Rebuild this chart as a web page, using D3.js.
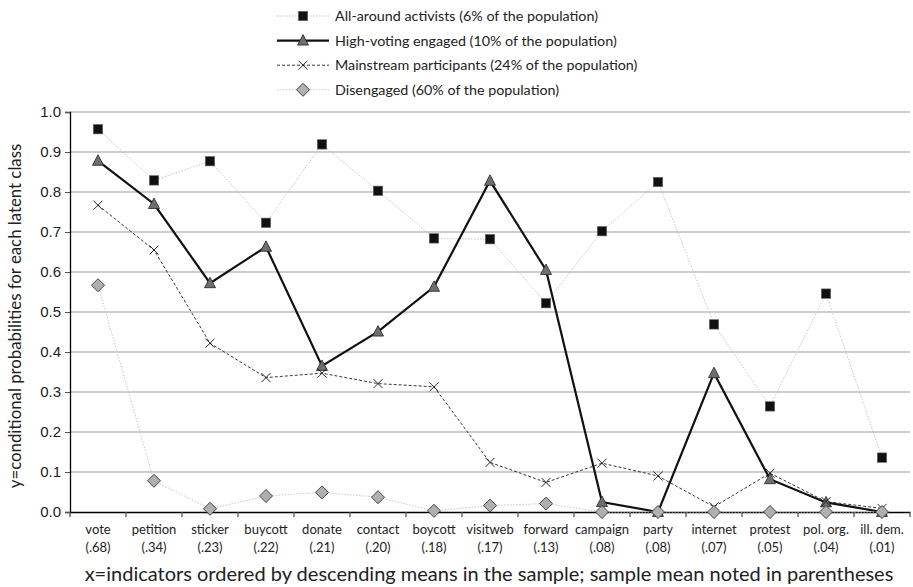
<!DOCTYPE html>
<html>
<head>
<meta charset="utf-8">
<script src="https://cdn.jsdelivr.net/npm/d3@7"></script>
<style>
  body { margin: 0; background: #fff; }
  svg { font-family: Lato, 'Open Sans', sans-serif; }
</style>
</head>
<body>
<svg width="913" height="587"></svg>
<script>
const indicators = ['vote', 'petition', 'sticker', 'buycott', 'donate', 'contact', 'boycott', 'visitweb', 'forward', 'campaign', 'party', 'internet', 'protest', 'pol. org.', 'ill. dem.']
const means = ['(.68)', '(.34)', '(.23)', '(.22)', '(.21)', '(.20)', '(.18)', '(.17)', '(.13)', '(.08)', '(.08)', '(.07)', '(.05)', '(.04)', '(.01)']
const yTicks = [0, 0.1, 0.2, 0.3, 0.4, 0.5, 0.6, 0.7, 0.8, 0.9, 1.0]

const activists = [0.957, 0.829, 0.877, 0.723, 0.919, 0.803, 0.684, 0.682, 0.522, 0.702, 0.825, 0.469, 0.264, 0.546, 0.136]
const highVoting = [0.878, 0.77, 0.572, 0.663, 0.365, 0.451, 0.563, 0.828, 0.605, 0.025, 0.0, 0.347, 0.082, 0.024, 0.0]
const mainstream = [0.767, 0.655, 0.422, 0.336, 0.347, 0.321, 0.313, 0.124, 0.074, 0.122, 0.09, 0.013, 0.097, 0.026, 0.009]
const disengaged = [0.567, 0.078, 0.008, 0.04, 0.049, 0.037, 0.003, 0.016, 0.021, 0.0, 0.0, 0.0, 0.0, 0.0, 0.0]

const series = [
  { name: 'All-around activists (6% of the population)', values: activists, stroke: '#c8c8c8', width: 1, dash: '1.5,1.5', marker: 'square' },
  { name: 'High-voting engaged (10% of the population)', values: highVoting, stroke: '#111', width: 2.2, dash: null, marker: 'triangle' },
  { name: 'Mainstream participants (24% of the population)', values: mainstream, stroke: '#222', width: 0.9, dash: '3,2', marker: 'cross' },
  { name: 'Disengaged (60% of the population)', values: disengaged, stroke: '#c8c8c8', width: 1, dash: '1.5,1.5', marker: 'diamond' }
]

const svg = d3.select('svg')
const margin = { left: 70, right: 3, top: 112, bottom: 75 }
const width = 913
const height = 587

const x = d3.scaleBand().domain(indicators).range([margin.left, width - margin.right])
const y = d3.scaleLinear().domain([0, 1]).range([height - margin.bottom, margin.top])

// gridlines
svg.append('g')
  .selectAll('line')
  .data(yTicks.filter(d => d > 0))
  .enter()
  .append('line')
  .attr('x1', margin.left)
  .attr('x2', width - margin.right)
  .attr('y1', d => y(d))
  .attr('y2', d => y(d))
  .attr('stroke', '#bdbdbd')
  .attr('stroke-width', 1.5)

// y axis
const yAxis = svg.append('g')
  .attr('transform', `translate(${margin.left},0)`)
  .call(d3.axisLeft(y).tickValues(yTicks).tickFormat(d3.format('.1f')).tickSize(5).tickPadding(4))
yAxis.select('.domain').attr('stroke', '#000').attr('stroke-width', 1.3)
yAxis.selectAll('.tick line').attr('stroke', '#555')
yAxis.selectAll('text').attr('font-size', 15).attr('fill', '#222')

// x axis
const xAxis = svg.append('g')
  .attr('transform', `translate(0,${y(0)})`)
  .call(d3.axisBottom(x).tickSize(0).tickFormat(''))
xAxis.select('.domain').attr('stroke', '#000').attr('stroke-width', 1.3)

svg.append('g')
  .selectAll('line')
  .data(indicators.concat(['end']))
  .enter()
  .append('line')
  .attr('x1', (d, i) => margin.left + i * x.step())
  .attr('x2', (d, i) => margin.left + i * x.step())
  .attr('y1', y(0))
  .attr('y2', y(0) + 5)
  .attr('stroke', '#555')
  .attr('stroke-width', 1.3)

const labels = svg.append('g')
  .selectAll('text')
  .data(indicators)
  .enter()
  .append('text')
  .attr('text-anchor', 'middle')
  .attr('font-size', 13)
  .attr('fill', '#222')
labels.append('tspan')
  .attr('x', d => x(d) + x.bandwidth() / 2)
  .attr('y', y(0) + 22)
  .text(d => d)
labels.append('tspan')
  .attr('x', d => x(d) + x.bandwidth() / 2)
  .attr('y', y(0) + 40)
  .text((d, i) => means[i])

// axis titles
svg.append('text')
  .attr('x', 489)
  .attr('y', 581)
  .attr('text-anchor', 'middle')
  .attr('font-size', 20)
  .attr('fill', '#222')
  .text('x=indicators ordered by descending means in the sample; sample mean noted in parentheses')

svg.append('text')
  .attr('transform', 'translate(21,316) rotate(-90)')
  .attr('text-anchor', 'middle')
  .attr('font-size', 16.8)
  .attr('fill', '#222')
  .text('y=conditional probabilities for each latent class')

// markers
function drawMarker(g, type) {
  if (type === 'square') {
    g.append('rect').attr('x', -4.7).attr('y', -4.7).attr('width', 9.4).attr('height', 9.4)
      .attr('fill', '#111').attr('stroke', '#666').attr('stroke-width', 0.6)
  } else if (type === 'triangle') {
    g.append('path').attr('d', 'M0,-6L5.5,4.5L-5.5,4.5Z')
      .attr('fill', '#6e6e6e').attr('stroke', '#222').attr('stroke-width', 0.8)
  } else if (type === 'cross') {
    g.append('path').attr('d', 'M-4.5,-4.5L4.5,4.5M-4.5,4.5L4.5,-4.5')
      .attr('stroke', '#111').attr('stroke-width', 0.9).attr('fill', 'none')
  } else {
    g.append('path').attr('d', 'M0,-6.5L6.5,0L0,6.5L-6.5,0Z')
      .attr('fill', '#b0b0b0').attr('stroke', '#333').attr('stroke-width', 0.9)
  }
}

const line = d3.line()
  .x((d, i) => x(indicators[i]) + x.bandwidth() / 2)
  .y(d => y(d))

series.forEach(s => {
  svg.append('path')
    .datum(s.values)
    .attr('d', line)
    .attr('fill', 'none')
    .attr('stroke', s.stroke)
    .attr('stroke-width', s.width)
    .attr('stroke-dasharray', s.dash)
})

series.forEach(s => {
  svg.append('g')
    .selectAll('g')
    .data(s.values)
    .enter()
    .append('g')
    .attr('transform', (d, i) => `translate(${x(indicators[i]) + x.bandwidth() / 2},${y(d)})`)
    .each(function () { drawMarker(d3.select(this), s.marker) })
})

// legend
const legend = svg.append('g').attr('id', 'legend')
series.forEach((s, i) => {
  const ly = 16 + i * 24.6
  legend.append('line')
    .attr('x1', 277).attr('x2', 329)
    .attr('y1', ly).attr('y2', ly)
    .attr('stroke', s.stroke)
    .attr('stroke-width', s.width)
    .attr('stroke-dasharray', s.dash)
  const m = legend.append('g').attr('transform', `translate(303,${ly})`)
  drawMarker(m, s.marker)
  legend.append('text')
    .attr('x', 335)
    .attr('y', ly + 5)
    .attr('font-size', 14.3)
    .attr('fill', '#222')
    .text(s.name)
})
</script>
</body>
</html>
